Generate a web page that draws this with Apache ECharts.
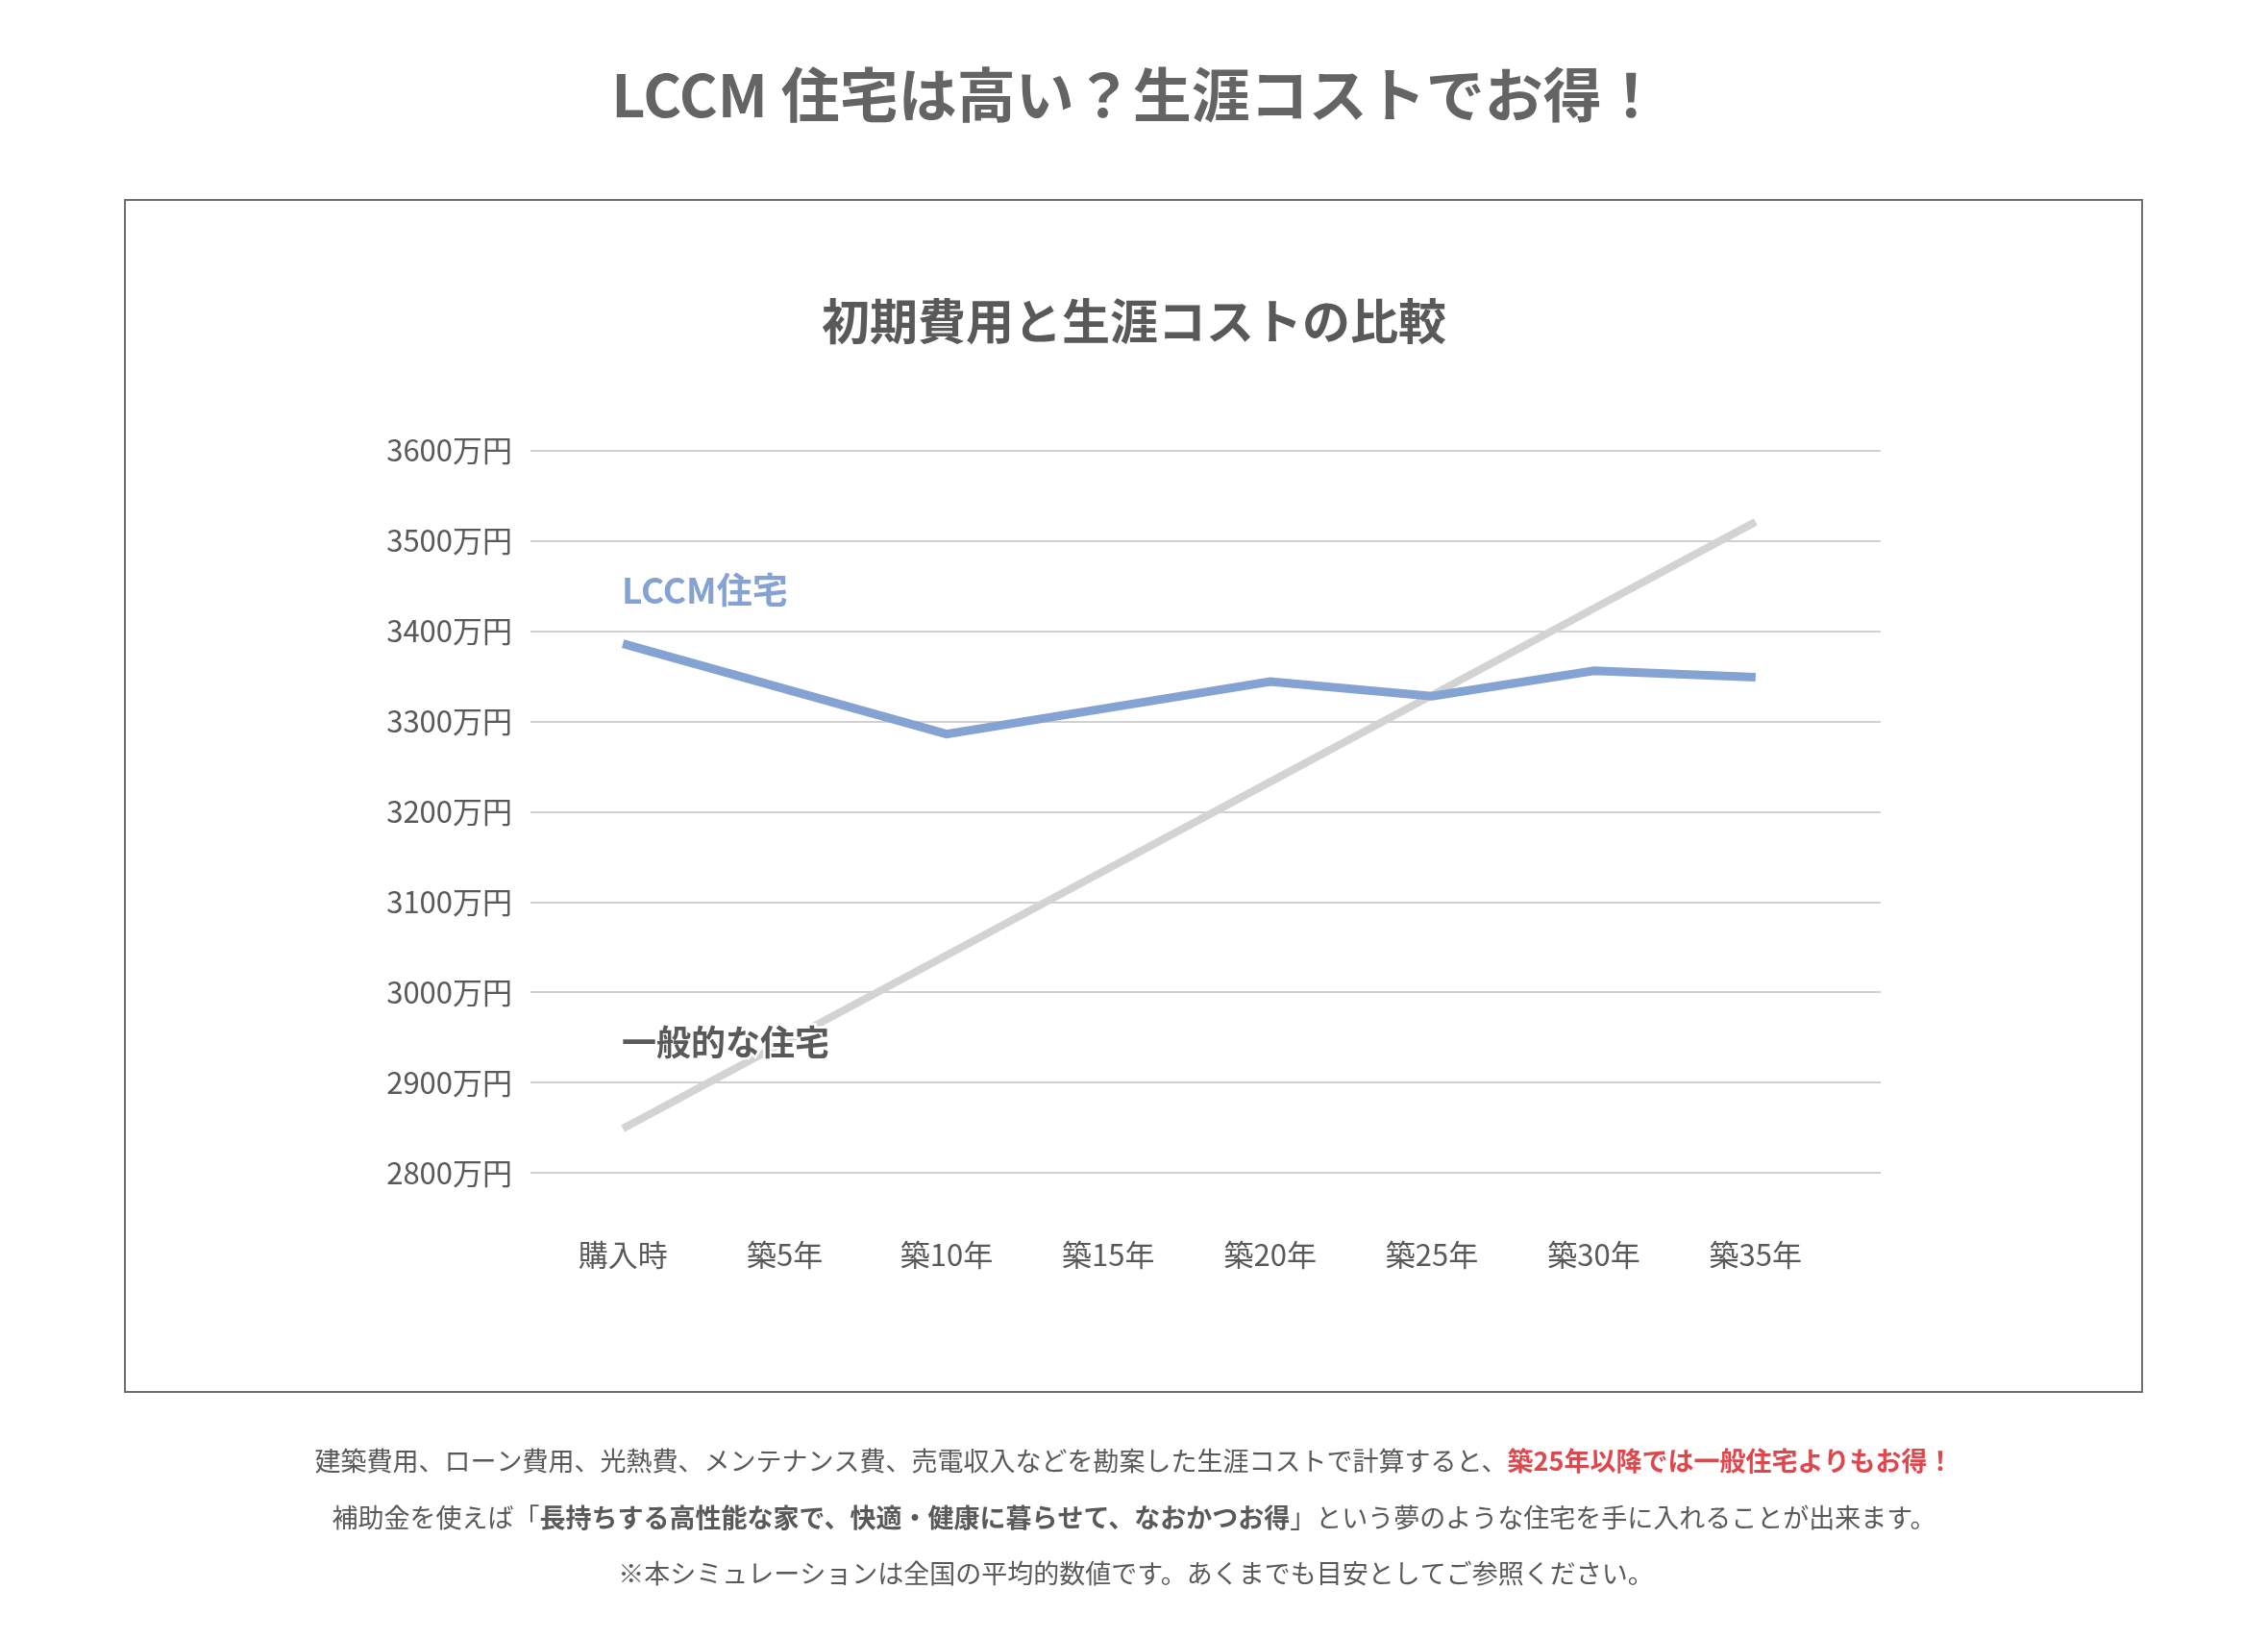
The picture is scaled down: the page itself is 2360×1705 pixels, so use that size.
<!DOCTYPE html>
<html><head><meta charset="utf-8">
<script src="https://cdn.jsdelivr.net/npm/echarts@6/dist/echarts.min.js"></script>
<style>html,body{margin:0;padding:0;background:#fff}#c{width:2360px;height:1705px}</style>
</head><body><div id="c"></div>
<script>
const categories = ['購入時', '築5年', '築10年', '築15年', '築20年', '築25年', '築30年', '築35年'];
const lccmValues = [3386, 3336, 3286, 3315, 3344, 3328, 3356, 3349];
const generalValues = [2849, 2945, 3041, 3137, 3233, 3329, 3425, 3521];
const yMin = 2800, yMax = 3600, yStep = 100;
const yUnit = '万円';
const seriesNames = ['LCCM住宅', '一般的な住宅'];
const pageTitle = 'LCCM 住宅は高い？生涯コストでお得！';
const chartTitle = '初期費用と生涯コストの比較';
const footer1 = ['建築費用、ローン費用、光熱費、メンテナンス費、売電収入などを勘案した生涯コストで計算すると、', '築25年以降では一般住宅よりもお得！'];
const footer2 = ['補助金を使えば「', '長持ちする高性能な家で、快適・健康に暮らせて、なおかつお得', '」という夢のような住宅を手に入れることが出来ます。'];
const footer3 = '※本シミュレーションは全国の平均的数値です。あくまでも目安としてご参照ください。';

const FONT = '"Noto Sans CJK JP", "Noto Sans", sans-serif';
const GRAY = '#595959';
const BLUE = '#85a3d2';
const LGRAY = '#d3d3d3';

const chart = echarts.init(document.getElementById('c'), null, {renderer: 'canvas'});
const gridTop = 468.7, gridBottom = 1705 - 1220;

chart.setOption({
  backgroundColor: '#fff',
  animation: false,
  grid: [
    {left: 552, right: 2360 - 1957, top: gridTop, bottom: gridBottom},
    {left: 564, right: 449, top: gridTop, bottom: gridBottom}
  ],
  xAxis: [
    {gridIndex: 0, type: 'category', data: categories, show: false},
    {gridIndex: 1, type: 'category', data: categories, boundaryGap: true,
      axisLine: {show: false}, axisTick: {show: false}, splitLine: {show: false},
      axisLabel: {margin: 70, color: GRAY, fontSize: 31, fontFamily: FONT, interval: 0}}
  ],
  yAxis: [
    {gridIndex: 0, type: 'value', min: yMin, max: yMax, interval: yStep,
      axisLine: {show: false}, axisTick: {show: false},
      axisLabel: {margin: 19, color: GRAY, fontSize: 31, fontFamily: FONT, padding: [8, 0, 0, 0], formatter: v => v + yUnit},
      splitLine: {show: true, lineStyle: {color: '#d0d0d0', width: 2}}},
    {gridIndex: 1, type: 'value', min: yMin, max: yMax, interval: yStep, show: false, splitLine: {show: false}}
  ],
  series: [
    {name: seriesNames[1], type: 'line', xAxisIndex: 1, yAxisIndex: 1, data: generalValues,
      showSymbol: false, symbol: 'none', z: 3,
      lineStyle: {color: LGRAY, width: 8, cap: 'butt', join: 'miter'}},
    {name: seriesNames[0], type: 'line', xAxisIndex: 1, yAxisIndex: 1, data: lccmValues,
      showSymbol: false, symbol: 'none', z: 4,
      lineStyle: {color: BLUE, width: 9, cap: 'butt', join: 'miter'}}
  ],
  graphic: [
    {type: 'rect', z: -1, shape: {x: 130, y: 208, width: 2099, height: 1240},
      style: {fill: null, stroke: '#707070', lineWidth: 2}},
    {type: 'text', z: 100, x: 1182, y: 99,
      style: {text: pageTitle, fill: '#646464', font: 'bold 61px ' + FONT, align: 'center', verticalAlign: 'middle'}},
    {type: 'text', z: 100, x: 1180, y: 334,
      style: {text: chartTitle, fill: GRAY, font: 'bold 50px ' + FONT, align: 'center', verticalAlign: 'middle'}},
    {type: 'text', z: 100, x: 647, y: 614,
      style: {text: seriesNames[0], fill: BLUE, font: 'bold 37px ' + FONT, align: 'left', verticalAlign: 'middle'}},
    {type: 'text', z: 100, x: 647, y: 1084,
      style: {text: seriesNames[1], fill: GRAY, font: 'bold 36px ' + FONT, align: 'left', verticalAlign: 'middle',
        stroke: '#fff', lineWidth: 5}},
    {type: 'text', z: 100, x: 1180, y: 1520,
      style: {text: '{a|' + footer1[0] + '}{r|' + footer1[1] + '}', align: 'center', verticalAlign: 'middle',
        rich: {a: {fill: GRAY, fontSize: 27, fontFamily: FONT}, r: {fill: '#e0474c', fontSize: 27, fontFamily: FONT, fontWeight: 'bold'}}}},
    {type: 'text', z: 100, x: 1180, y: 1579,
      style: {text: '{a|' + footer2[0] + '}{b|' + footer2[1] + '}{a|' + footer2[2] + '}', align: 'center', verticalAlign: 'middle',
        rich: {a: {fill: GRAY, fontSize: 27, fontFamily: FONT}, b: {fill: GRAY, fontSize: 27, fontFamily: FONT, fontWeight: 'bold'}}}},
    {type: 'text', z: 100, x: 1182, y: 1637,
      style: {text: footer3, fill: GRAY, font: '27px ' + FONT, align: 'center', verticalAlign: 'middle'}}
  ]
});
</script></body></html>
